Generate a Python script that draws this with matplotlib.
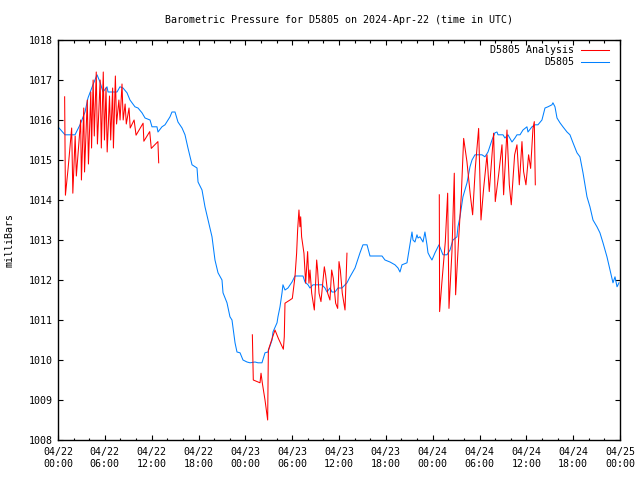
import numpy as np
import pandas as pd
import matplotlib
matplotlib.use("Agg")
import matplotlib.pyplot as plt
import matplotlib.dates as mdates

# hours after 2024-04-22 00:00 UTC, pressure in mbar
station_hours = [0.0, 0.90, 2.18, 2.82, 3.46, 3.84, 4.48, 5.0, 5.38, 5.76, 6.28, 6.41, 7.56, 7.94,
                 8.33, 8.84, 9.22, 9.86, 10.25, 10.76, 11.15, 11.79, 12.04, 12.68, 12.81, 13.32,
                 13.71, 14.35, 14.60, 14.99, 15.37, 15.89, 16.27, 16.65, 17.17, 17.81, 17.94, 18.45,
                 18.83, 19.22, 19.73, 20.11, 20.50, 21.01, 21.14, 21.65, 22.03, 22.29, 22.68, 22.93,
                 23.32, 23.70, 24.21, 24.60, 25.24, 25.62, 26.13, 26.52, 26.90, 27.42, 27.54, 28.06,
                 28.18, 28.44, 28.70, 28.82, 29.08, 29.46, 29.98, 30.36, 31.39, 31.64, 32.03, 32.28,
                 32.67, 33.82, 34.20, 34.46, 34.85, 35.10, 35.49, 35.87, 36.38, 37.02, 37.41, 38.05,
                 38.69, 39.07, 39.59, 39.97, 41.51, 41.89, 42.53, 43.17, 43.56, 43.81, 44.07, 44.71,
                 45.09, 45.35, 45.48, 45.73, 45.99, 46.12, 46.37, 46.76, 47.01, 47.27, 47.40, 47.66,
                 47.91, 48.30, 48.81, 49.32, 49.83, 50.22, 50.60, 51.11, 51.24, 51.50, 51.88, 52.40,
                 52.78, 53.04, 53.42, 54.32, 54.70, 55.09, 55.60, 55.98, 56.24, 56.37, 57.01, 57.26,
                 57.65, 58.16, 58.54, 58.80, 59.19, 59.57, 60.08, 60.21, 60.72, 61.11, 61.49, 62.0,
                 62.39, 62.77, 63.28, 63.41, 63.67, 63.93, 64.31, 64.69, 65.21, 65.59, 65.98, 66.49,
                 66.87, 67.26, 67.77, 68.15, 68.54, 69.05, 69.43, 69.82, 70.33, 70.72, 71.10, 71.36,
                 71.62, 71.87]
station_mbar = [1015.83, 1015.63, 1015.63, 1015.88, 1016.20, 1016.55, 1016.88, 1017.13, 1016.95,
                1016.70, 1016.83, 1016.70, 1016.70, 1016.83, 1016.80, 1016.68, 1016.50, 1016.33,
                1016.30, 1016.18, 1016.05, 1016.00, 1015.83, 1015.83, 1015.70, 1015.83, 1015.88,
                1016.08, 1016.20, 1016.20, 1015.95, 1015.80, 1015.63, 1015.30, 1014.88, 1014.80,
                1014.45, 1014.25, 1013.83, 1013.50, 1013.08, 1012.50, 1012.18, 1012.00, 1011.68,
                1011.43, 1011.08, 1011.00, 1010.43, 1010.20, 1010.18, 1010.00, 1009.95, 1009.93,
                1009.95, 1009.93, 1009.93, 1010.18, 1010.20, 1010.50, 1010.70, 1010.93, 1011.08,
                1011.33, 1011.68, 1011.88, 1011.75, 1011.80, 1011.95, 1012.10, 1012.10, 1011.95,
                1011.88, 1011.80, 1011.88, 1011.88, 1011.80, 1011.70, 1011.80, 1011.70, 1011.70,
                1011.80, 1011.80, 1011.93, 1012.08, 1012.30, 1012.68, 1012.88, 1012.88, 1012.60,
                1012.60, 1012.50, 1012.45, 1012.38, 1012.30, 1012.20, 1012.38, 1012.43, 1012.88,
                1013.20, 1013.00, 1012.95, 1013.13, 1013.05, 1013.08, 1012.95, 1013.20, 1012.88,
                1012.68, 1012.58, 1012.50, 1012.68, 1012.88, 1012.63, 1012.63, 1012.75, 1013.00,
                1013.08, 1013.33, 1013.58, 1014.08, 1014.43, 1014.83, 1015.00, 1015.13, 1015.13,
                1015.08, 1015.20, 1015.50, 1015.68, 1015.70, 1015.63, 1015.63, 1015.55, 1015.63,
                1015.45, 1015.55, 1015.63, 1015.63, 1015.75, 1015.83, 1015.70, 1015.83, 1015.88,
                1015.88, 1016.00, 1016.30, 1016.33, 1016.38, 1016.43, 1016.33, 1016.05, 1015.93,
                1015.83, 1015.70, 1015.63, 1015.43, 1015.18, 1015.08, 1014.68, 1014.08, 1013.83,
                1013.50, 1013.33, 1013.18, 1012.93, 1012.58, 1012.25, 1011.93, 1012.08, 1011.83,
                1011.93]

# analysis has three separate runs
analysis1_hours = [0.85, 0.95, 1.3, 1.75, 1.9, 2.2, 2.35, 2.9, 3.0, 3.3, 3.4, 3.75, 3.9, 4.2, 4.3,
                   4.5, 4.65, 4.9, 5.05, 5.4, 5.55, 5.8, 5.95, 6.15, 6.3, 6.6, 6.75, 7.0, 7.1, 7.35,
                   7.5, 7.8, 7.95, 8.2, 8.35, 8.6, 8.75, 9.1, 9.25, 9.75, 10.0, 10.9, 11.0, 11.75,
                   11.95, 12.8, 12.9]
analysis1_mbar = [1016.58, 1014.12, 1014.8, 1015.8, 1014.17, 1015.6, 1014.6, 1016.0, 1014.5,
                  1016.3, 1014.7, 1016.5, 1014.9, 1016.7, 1015.3, 1017.0, 1015.6, 1017.2, 1015.4,
                  1017.0, 1015.3, 1017.2, 1015.5, 1016.8, 1015.2, 1016.6, 1015.5, 1016.8, 1015.3,
                  1017.1, 1015.9, 1016.5, 1016.0, 1016.9, 1016.0, 1016.4, 1015.9, 1016.3, 1015.8,
                  1016.0, 1015.62, 1015.92, 1015.47, 1015.71, 1015.29, 1015.46, 1014.93]
analysis2_hours = [24.90, 25.02, 25.88, 26.01, 26.18, 26.52, 26.86, 26.95, 27.37, 27.8, 28.23,
                   28.87, 28.99, 29.08, 29.72, 30.02, 30.36, 30.57, 30.7, 30.87, 31.0, 31.09, 31.21,
                   31.51, 31.73, 31.98, 32.15, 32.28, 32.5, 32.84, 33.14, 33.26, 33.44, 33.69, 34.12,
                   34.29, 34.55, 34.84, 35.06, 35.27, 35.57, 35.83, 36.0, 36.17, 36.42, 36.77, 37.02]
analysis2_mbar = [1010.63, 1009.50, 1009.43, 1009.67, 1009.42, 1009.0, 1008.5, 1010.25, 1010.5,
                  1010.75, 1010.54, 1010.27, 1010.58, 1011.42, 1011.5, 1011.54, 1012.08, 1012.67,
                  1013.25, 1013.75, 1013.33, 1013.58, 1013.08, 1012.67, 1011.92, 1012.71, 1011.92,
                  1012.25, 1011.67, 1011.25, 1012.5, 1012.25, 1011.67, 1011.46, 1012.33, 1012.12,
                  1011.67, 1011.5, 1012.25, 1012.04, 1011.42, 1011.29, 1012.46, 1012.25, 1011.67,
                  1011.25, 1012.67]
analysis3_hours = [48.85, 48.89, 49.19, 49.62, 49.92, 50.09, 50.47, 50.77, 50.94, 51.33, 51.67,
                   51.97, 52.39, 52.82, 53.12, 53.46, 53.89, 54.19, 54.53, 54.96, 55.25, 55.81,
                   56.02, 56.45, 56.88, 57.09, 57.52, 57.82, 58.07, 58.5, 58.8, 59.1, 59.44, 59.65,
                   59.95, 60.29, 60.55, 60.85, 61.02, 61.15]
analysis3_mbar = [1014.13, 1011.21, 1011.96, 1012.96, 1014.17, 1011.29, 1012.71, 1014.67, 1011.63,
                  1013.04, 1014.13, 1015.54, 1014.96, 1014.13, 1013.63, 1014.79, 1015.79, 1013.5,
                  1014.29, 1015.13, 1014.21, 1015.67, 1013.96, 1014.63, 1015.38, 1014.13, 1015.75,
                  1014.38, 1013.88, 1015.13, 1015.38, 1014.38, 1015.46, 1014.71, 1014.38, 1015.13,
                  1014.79, 1015.79, 1015.96, 1014.38]

start = pd.Timestamp("2024-04-22 00:00")
end = pd.Timestamp("2024-04-25 00:00")


def to_times(hours):
    return start + pd.to_timedelta(hours, unit="h")


plt.rcParams["font.family"] = "DejaVu Sans Mono"
plt.rcParams["font.size"] = 7.2

fig = plt.figure(figsize=(6.4, 4.8), dpi=100)
ax = fig.add_axes([58 / 640, 40 / 480, 562 / 640, 400 / 480])

red = "#ff0000"
blue = "#0080ff"
lw = 0.75

ax.plot(to_times(station_hours), station_mbar, color=blue, linewidth=lw)
for hrs, mb in [(analysis1_hours, analysis1_mbar),
                (analysis2_hours, analysis2_mbar),
                (analysis3_hours, analysis3_mbar)]:
    ax.plot(to_times(hrs), mb, color=red, linewidth=lw)

ax.set_xlim(start, end)
ax.set_ylim(1008, 1018)
ax.set_yticks(np.arange(1008, 1019, 1))
ax.yaxis.set_major_formatter(plt.FuncFormatter(lambda v, p: f"{v:.0f}"))

ax.xaxis.set_major_locator(mdates.HourLocator(byhour=range(0, 24, 6)))
ax.xaxis.set_minor_locator(mdates.HourLocator(byhour=range(0, 24, 2)))
ax.xaxis.set_major_formatter(mdates.DateFormatter("%m/%d\n%H:%M"))

ax.tick_params(which="both", direction="in", top=True, right=True, color="black")
ax.tick_params(which="major", length=3.6, width=0.8)
ax.tick_params(which="minor", length=1.8, width=0.8)
ax.tick_params(axis="x", pad=5)
ax.tick_params(axis="y", pad=4)
for lbl in ax.get_xticklabels():
    lbl.set_horizontalalignment("center")
    lbl.set_linespacing(1.25)

for s in ax.spines.values():
    s.set_linewidth(1.0)
    s.set_color("black")

# legend, gnuplot style: right-aligned text then a line sample
for i, (label, col) in enumerate([("D5805 Analysis", red), ("D5805", blue)]):
    ypos = 1 - (10 + 12 * i) / 400
    ax.text((574 - 58) / 562, ypos, label, transform=ax.transAxes,
            ha="right", va="center")
    ax.plot([(581 - 58) / 562, (609 - 58) / 562], [ypos, ypos], color=col,
            linewidth=lw, transform=ax.transAxes, clip_on=False)

fig.text(339 / 640, 1 - 20 / 480, "Barometric Pressure for D5805 on 2024-Apr-22 (time in UTC)",
         ha="center", va="center")
fig.text(10 / 640, 0.5, "milliBars", rotation=90, ha="center", va="center")

fig.savefig("out.png", dpi=100)
